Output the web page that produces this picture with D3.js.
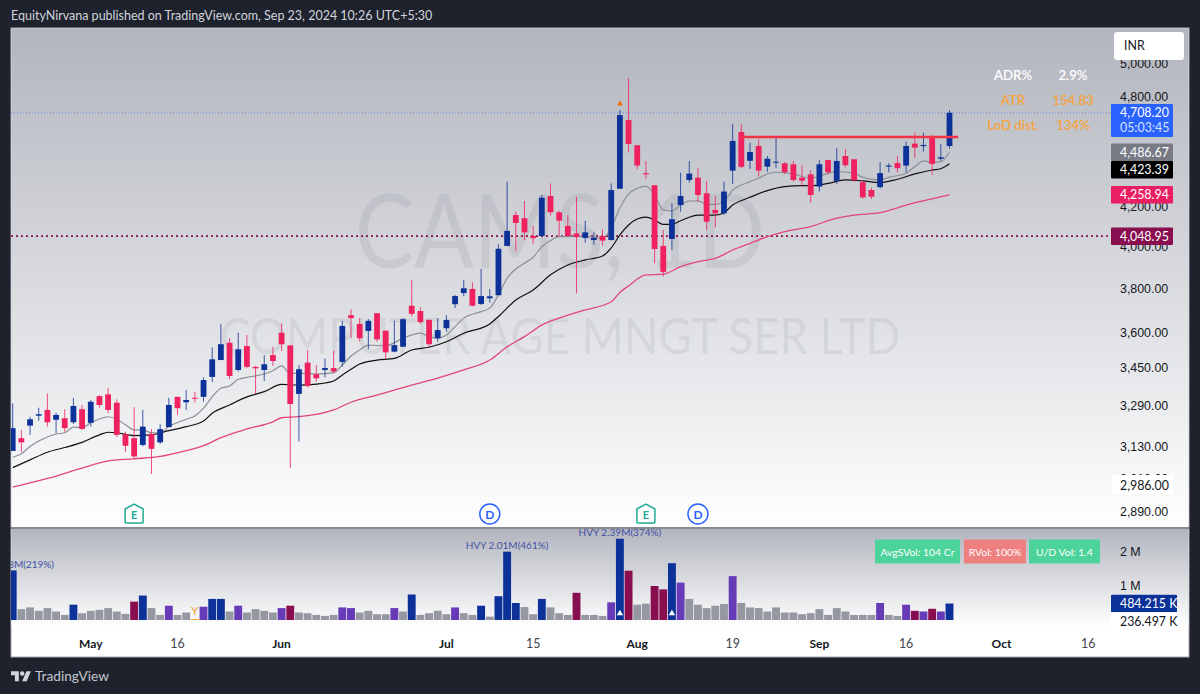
<!DOCTYPE html>
<html>
<head>
<meta charset="utf-8">
<script src="https://cdn.jsdelivr.net/npm/d3@7"></script>
<style>
  html, body { margin: 0; padding: 0; background: #1e222d; }
  svg { display: block; font-family: Lato, "Open Sans", sans-serif; }
</style>
</head>
<body>
<svg width="1200" height="694"></svg>
<script>
const opens = [3114,3163,3212,3251,3274,3235,3241,3225,3277,3223,3330,3337,3303,3178,3163,3137,3180,3147,3206,3327,3305,3323,3327,3409,3480,3554,3438,3540,3451,3438,3501,3598,3543,3339,3469,3420,3438,3446,3472,3676,3637,3606,3685,3607,3516,3537,3719,3695,3655,3574,3618,3726,3777,3796,3727,3753,3767,4001,4155,4139,4050,4050,4253,4169,4100,4063,4040,4030,4050,4030,4291,4667,4525,4373,4309,4001,4035,4206,4337,4349,4267,4181,4164,4387,4599,4440,4521,4408,4430,4426,4421,4349,4367,4302,4444,4332,4466,4448,4325,4284,4299,4408,4428,4414,4534,4520,4572,4451,4521];
const highs = [3301,3195,3247,3283,3341,3263,3277,3323,3294,3314,3334,3364,3317,3188,3285,3274,3198,3217,3323,3327,3355,3348,3407,3535,3636,3574,3598,3588,3455,3501,3537,3640,3543,3459,3523,3459,3487,3520,3651,3703,3663,3659,3685,3607,3652,3663,3838,3712,3658,3663,3676,3768,3838,3827,3890,3796,4009,4328,4172,4227,4100,4258,4319,4177,4155,4249,4126,4068,4083,4319,4724,4912,4525,4439,4309,4080,4215,4376,4439,4403,4332,4253,4328,4643,4643,4539,4558,4466,4577,4433,4439,4417,4390,4444,4444,4508,4503,4448,4337,4297,4433,4426,4466,4545,4595,4595,4582,4532,4724];
const lows = [3114,3110,3176,3231,3208,3182,3188,3218,3195,3208,3283,3261,3167,3111,3083,3131,3027,3141,3206,3254,3274,3303,3307,3388,3480,3400,3431,3445,3339,3392,3455,3518,3049,3150,3366,3389,3407,3424,3452,3574,3559,3527,3559,3484,3513,3537,3670,3637,3537,3559,3603,3708,3763,3715,3722,3733,3767,4001,3975,4030,4011,4047,4152,4047,4047,3776,4017,4007,4002,4027,4291,4486,4396,4342,3917,3854,3981,4172,4323,4223,4080,4093,4155,4316,4400,4396,4355,4381,4400,4369,4328,4302,4218,4276,4367,4316,4405,4328,4237,4237,4293,4378,4378,4378,4457,4490,4364,4440,4506];
const closes = [3202,3147,3237,3257,3225,3254,3202,3290,3199,3307,3294,3274,3176,3134,3093,3208,3122,3198,3294,3281,3314,3319,3396,3483,3548,3413,3526,3451,3445,3462,3476,3548,3298,3441,3371,3403,3446,3432,3628,3663,3574,3651,3569,3513,3544,3658,3682,3645,3548,3610,3655,3763,3799,3719,3763,3762,3987,4075,4115,4068,4039,4244,4169,4126,4050,4045,4068,4040,4027,4284,4695,4532,4414,4367,3986,3876,4134,4253,4371,4258,4121,4164,4276,4549,4407,4488,4387,4451,4435,4378,4337,4333,4258,4421,4378,4439,4416,4335,4246,4249,4373,4414,4400,4521,4512,4527,4423,4459,4708.20];

// volume in thousands, g grey, b blue, p purple, m maroon, o orange
const volumes = [1460,320,370,270,350,250,150,450,200,270,300,350,250,180,540,720,350,150,420,150,220,30,390,620,620,250,420,220,320,270,220,350,420,220,200,150,120,150,370,350,220,270,170,170,350,250,750,150,200,270,170,370,200,150,420,100,700,2010,500,380,170,620,370,200,150,800,150,150,120,520,2390,1450,450,480,1000,900,1670,1100,620,450,350,420,470,1290,500,370,350,250,370,220,220,170,200,320,150,350,250,150,150,150,500,150,120,450,270,250,330,250,484.215];
const volumeKinds = ["bggggggbgg","ggggmbggpg","gopbbgpggg","gpmgggggpp","ggggpgbggg","gpggbgbbbg","gbgggmgggp","bmggmmbpgg","gggpgggggg","gggggggggg","pggpmpmpb"].join("");

const grayIdx = [0,1,2,3,5,6,7,8,9,10,11,12,13,14,15,16,17,18,20,21,22,23,24,25,26,27,29,30,31,32,33,35,37,38,39,40,41,43,45,47,48,49,50,51,52,54,55,56,57,58,59,60,61,62,63,66,68,69,70,71,72,73,74,75,76,77,78,79,80,81,82,83,84,85,86,87,88,90,92,93,95,97,98,100,101,103,104,105,106,107,108];
const grayVal = [3090,3103,3131,3152,3179,3184,3206,3204,3223,3238,3247,3237,3215,3195,3195,3184,3184,3208,3237,3250,3281,3327,3362,3371,3399,3407,3421,3435,3455,3424,3424,3421,3427,3459,3497,3523,3544,3541,3574,3596,3581,3574,3588,3625,3663,3692,3708,3768,3846,3890,3917,3946,3997,4027,4047,4047,4039,4090,4191,4263,4293,4305,4258,4181,4176,4206,4227,4228,4210,4210,4223,4284,4310,4328,4346,4369,4378,4369,4346,4358,4381,4373,4351,4337,4351,4373,4408,4439,4431,4435,4486.67];

const blackIdx = [0,2,4,6,8,10,11,12,14,16,18,20,22,23,25,27,29,31,33,35,37,38,39,40,42,44,46,48,50,52,55,56,58,60,62,64,66,68,69,70,71,72,73,74,75,76,77,79,81,82,83,85,87,89,91,92,94,96,98,100,102,104,106,107,108];
const blackVal = [3051,3080,3109,3127,3147,3176,3186,3184,3173,3176,3192,3208,3230,3261,3294,3327,3348,3378,3375,3379,3392,3417,3441,3463,3480,3487,3523,3535,3559,3596,3637,3670,3745,3791,3862,3909,3933,3952,3991,4055,4105,4135,4144,4130,4108,4108,4126,4155,4155,4167,4206,4246,4281,4302,4307,4307,4319,4337,4332,4323,4341,4369,4390,4397,4423.39];

const pinkIdx = [0,4,8,11,14,17,20,22,24,27,30,31,33,37,39,42,46,49,52,55,57,59,61,63,66,69,70,71,73,75,77,79,81,83,85,87,89,92,95,97,100,103,105,108];
const pinkVal = [2979,3011,3049,3076,3084,3093,3115,3134,3165,3199,3227,3243,3247,3274,3305,3334,3375,3404,3438,3480,3537,3581,3632,3663,3700,3737,3780,3810,3862,3865,3901,3925,3941,3981,4014,4047,4072,4097,4139,4155,4167,4206,4228,4258.94];

const priceTicks = [5000,4800,4200,4000,3800,3600,3450,3290,3130,3010,2890];
const volumeTicks = [2000,1000];
const monthIdx = [9,31,50,72,93,114];
const monthLabels = ["May","Jun","Jul","Aug","Sep","Oct"];
const dayIdx = [19,60,83,103,124];
const dayLabels = ["16","15","19","16","16"];

const tagValues = [4486.67,4423.39,4258.94,4048.95];
const tagColors = ["#787b86","#000000","#e91e63","#880e4f"];
const statRows = [["ADR%","2.9%","#ffffff"],["ATR","154.83","#f5a33c"],["LoD dist.","134%","#f5a33c"]];
const badges = [
  {text: "AvgSVol: 104 Cr", x0: 875, x1: 960, fill: "#4cd39b"},
  {text: "RVol: 100%", x0: 964, x1: 1026, fill: "#ee8080"},
  {text: "U/D Vol: 1.4", x0: 1029, x1: 1100, fill: "#4cd39b"}
];
const volColors = {g: "#9598a1", b: "#0c3299", p: "#673ab7", m: "#880e4f", o: "#f5a33c"};
const levelPrice = 4048.95, breakoutPrice = 4571, lastPrice = 4708.20, lowLabel = 2986;

const svg = d3.select("svg");
const x = d3.scaleLinear().domain([0,108]).range([12.7,949.5]);
const y = d3.scaleLog().domain([2890,4800]).range([512,97]);
const v = d3.scaleLinear().domain([0,2000]).range([620,552]);
const fmt = d3.format(",.2f");
const axisFont = 12.4;

const defs = svg.append("defs");
function paneGradient(id) {
  const g = defs.append("linearGradient").attr("id", id).attr("x1",0).attr("x2",0).attr("y1",0).attr("y2",1);
  g.append("stop").attr("offset","0%").attr("stop-color","#b2b5be");
  g.append("stop").attr("offset","100%").attr("stop-color","#ffffff");
}
paneGradient("mainFill");
paneGradient("volFill");
defs.append("clipPath").attr("id","mainClip").append("rect").attr("x",11).attr("y",29).attr("width",1100).attr("height",499);
defs.append("clipPath").attr("id","volClip").append("rect").attr("x",11).attr("y",529).attr("width",1100).attr("height",100);

// panes
svg.append("rect").attr("x",11).attr("y",28).attr("width",1178).attr("height",629).attr("fill","#fff").attr("stroke","#a5a8b1");
svg.append("rect").attr("x",11.5).attr("y",28.5).attr("width",1177).attr("height",499).attr("fill","url(#mainFill)");
svg.append("rect").attr("x",11.5).attr("y",529).attr("width",1177).attr("height",98).attr("fill","url(#volFill)");
svg.append("line").attr("x1",11).attr("x2",1189).attr("y1",528).attr("y2",528).attr("stroke","#131722").attr("stroke-width",1.2);

// watermark
svg.append("text").attr("x",560).attr("y",268).attr("text-anchor","middle").attr("font-size",102)
  .attr("textLength",410).attr("lengthAdjust","spacingAndGlyphs")
  .attr("fill","#787b86").attr("fill-opacity",0.14).text("CAMS, 1D");
svg.append("text").attr("x",560).attr("y",354).attr("text-anchor","middle").attr("font-size",50)
  .attr("textLength",680).attr("lengthAdjust","spacingAndGlyphs")
  .attr("fill","#787b86").attr("fill-opacity",0.14).text("COMPUTER AGE MNGT SER LTD");

// header and footer
svg.append("text").attr("x",11).attr("y",20).attr("font-size",12.5).attr("fill","#d1d4dc")
  .text("EquityNirvana published on TradingView.com, Sep 23, 2024 10:26 UTC+5:30");
const logo = svg.append("g").attr("transform","translate(11,669) scale(0.56)").attr("fill","#d1d4dc");
logo.append("path").attr("d","M14 22H7V11H0V4h14v18zM28 22h-8l7.5-18h8L28 22z");
logo.append("circle").attr("cx",20).attr("cy",8).attr("r",4);
svg.append("text").attr("x",35).attr("y",681).attr("font-size",13.7).attr("fill","#c4c7cf").text("TradingView");

// levels
const main = svg.append("g").attr("clip-path","url(#mainClip)");
main.append("line").attr("x1",11).attr("x2",1111).attr("y1",y(lastPrice)).attr("y2",y(lastPrice))
  .attr("stroke","#2962ff").attr("stroke-opacity",0.6).attr("stroke-dasharray","1,2");
main.append("line").attr("x1",11).attr("x2",1111).attr("y1",y(levelPrice)).attr("y2",y(levelPrice))
  .attr("stroke","#880e4f").attr("stroke-width",1.7).attr("stroke-dasharray","2,3");

// moving averages
const line = d3.line().x(d => x(d[0])).y(d => y(d[1])).curve(d3.curveMonotoneX);
main.append("path").attr("d",line(d3.zip(pinkIdx,pinkVal))).attr("fill","none").attr("stroke","#e2457c").attr("stroke-width",1.3);
main.append("path").attr("d",line(d3.zip(grayIdx,grayVal))).attr("fill","none").attr("stroke","#8c8f98").attr("stroke-width",1.2);
main.append("path").attr("d",line(d3.zip(blackIdx,blackVal))).attr("fill","none").attr("stroke","#111111").attr("stroke-width",1.2);

// candles
const candleColor = i => closes[i] >= opens[i] ? "#0c3299" : "#f0215f";
const candles = main.selectAll(".candle").data(d3.range(opens.length)).enter().append("g").attr("class","candle");
candles.append("line")
  .attr("x1",i => x(i)).attr("x2",i => x(i))
  .attr("y1",i => y(highs[i])).attr("y2",i => y(lows[i]))
  .attr("stroke",candleColor).attr("stroke-opacity",0.8).attr("stroke-width",1);
candles.append("rect")
  .attr("x",i => x(i) - 2.9).attr("width",5.8)
  .attr("y",i => y(Math.max(opens[i],closes[i])))
  .attr("height",i => Math.max(1, y(Math.min(opens[i],closes[i])) - y(Math.max(opens[i],closes[i]))))
  .attr("fill",candleColor);

// breakout line
main.append("line").attr("x1",x(84)).attr("x2",x(109)).attr("y1",y(breakoutPrice)).attr("y2",y(breakoutPrice))
  .attr("stroke","#f23645").attr("stroke-width",2.4);

// orange flag above the gap candle
svg.append("path").attr("d",d3.symbol(d3.symbolTriangle,14)()).attr("transform",`translate(${x(70)},${y(4760)})`).attr("fill","#ef6c00");

// earnings and dividend marks
[14,73].forEach(i => {
  const g = svg.append("g").attr("transform",`translate(${x(i)},514)`);
  g.append("path").attr("d","M-9,-5 L0,-10 L9,-5 L9,8 Q9,9 8,9 L-8,9 Q-9,9 -9,8 Z").attr("fill","#fff").attr("stroke","#22ab94").attr("stroke-width",1.5);
  g.append("text").attr("y",5).attr("text-anchor","middle").attr("font-size",11).attr("font-weight",700).attr("fill","#22ab94").text("E");
});
[55,79].forEach(i => {
  const g = svg.append("g").attr("transform",`translate(${x(i)},514)`);
  g.append("circle").attr("r",10).attr("fill","#fff").attr("stroke","#2962ff").attr("stroke-width",1.5);
  g.append("text").attr("y",4.5).attr("text-anchor","middle").attr("font-size",12).attr("font-weight",700).attr("fill","#2962ff").text("D");
});

// volume
const vol = svg.append("g").attr("clip-path","url(#volClip)");
vol.selectAll("rect").data(volumes).enter().append("rect")
  .attr("x",(d,i) => x(i) - 3.95).attr("width",7.9)
  .attr("y",d => v(d)).attr("height",d => v(0) - v(d))
  .attr("fill",(d,i) => volColors[volumeKinds[i]]);
[70,76].forEach(i => {
  vol.append("path").attr("d",d3.symbol(d3.symbolTriangle,18)()).attr("transform",`translate(${x(i)},613.5)`).attr("fill","#fff");
});
const hvyLabels = [[0,1430,"HVY 1.43M(219%)"],[57,2010,"HVY 2.01M(461%)"],[70,2390,"HVY 2.39M(374%)"]];
vol.selectAll(".hvy").data(hvyLabels).enter().append("text").attr("class","hvy")
  .attr("x",d => x(d[0])).attr("y",d => v(d[1]) - 3).attr("text-anchor","middle")
  .attr("font-size",10).attr("fill","#3f51a5").text(d => d[2]);
vol.append("text").attr("x",x(21)).attr("y",615).attr("text-anchor","middle").attr("font-size",12).attr("fill","#f5a33c").text("Y");

badges.forEach(b => {
  svg.append("rect").attr("x",b.x0).attr("y",539.5).attr("width",b.x1 - b.x0).attr("height",24).attr("fill",b.fill);
  svg.append("text").attr("x",(b.x0 + b.x1) / 2).attr("y",555.5).attr("text-anchor","middle").attr("font-size",10.4).attr("fill","#fff").text(b.text);
});

// time axis
const timeAxis = svg.append("g");
timeAxis.selectAll(".month").data(d3.zip(monthIdx,monthLabels)).enter().append("text").attr("class","month")
  .attr("x",d => x(d[0])).attr("y",648).attr("text-anchor","middle").attr("font-size",12).attr("font-weight",700).attr("fill","#131722").text(d => d[1]);
timeAxis.selectAll(".day").data(d3.zip(dayIdx,dayLabels)).enter().append("text").attr("class","day")
  .attr("x",d => x(d[0])).attr("y",648).attr("text-anchor","middle").attr("font-size",12.4).attr("fill","#434651").text(d => d[1]);

// price axis
const priceAxis = svg.append("g").attr("transform","translate(1120,0)")
  .call(d3.axisRight(y).tickValues(priceTicks).tickSize(0).tickPadding(0).tickFormat(fmt));
priceAxis.select(".domain").remove();
priceAxis.selectAll("text").attr("font-size",axisFont).attr("font-family","inherit").attr("fill","#131722");
svg.append("rect").attr("x",1112).attr("y",475).attr("width",61).attr("height",19).attr("fill","#fff");
svg.append("text").attr("x",1120).attr("y",y(lowLabel) + 4.5).attr("font-size",axisFont).attr("fill","#131722").text(fmt(lowLabel));

// volume axis
const volAxis = svg.append("g").attr("transform","translate(1120,0)")
  .call(d3.axisRight(v).tickValues(volumeTicks).tickSize(0).tickPadding(0).tickFormat(d => (d / 1000) + " M"));
volAxis.select(".domain").remove();
volAxis.selectAll("text").attr("font-size",axisFont).attr("font-family","inherit").attr("fill","#131722");

// value tags, pushed down when they would collide
function tag(yMid, label, fill, color, width) {
  svg.append("rect").attr("x",1111).attr("y",yMid - 8.8).attr("width",width).attr("height",17.6).attr("rx",1).attr("fill",fill);
  svg.append("text").attr("x",1120).attr("y",yMid + 4.5).attr("font-size",axisFont).attr("fill",color).text(label);
}
let bottom = 0;
tagValues.forEach((val,k) => {
  const mid = Math.max(y(val), bottom + 8.8);
  tag(mid, fmt(val), tagColors[k], "#fff", 62);
  bottom = mid + 8.8;
});
svg.append("rect").attr("x",1111).attr("y",104).attr("width",62).attr("height",33).attr("rx",1).attr("fill","#2962ff");
svg.append("text").attr("x",1120).attr("y",117).attr("font-size",axisFont).attr("fill","#fff").text(fmt(lastPrice));
svg.append("text").attr("x",1120).attr("y",132).attr("font-size",axisFont).attr("fill","#d6e0ff").text("05:03:45");
const volTagY = v(484.215);
tag(volTagY, "484.215 K", "#0c3299", "#fff", 66);
tag(volTagY + 17.6, "236.497 K", "#ffffff", "#131722", 66);

// currency box
svg.append("rect").attr("x",1114).attr("y",32).attr("width",70).attr("height",28).attr("rx",3).attr("fill","#fff");
svg.append("text").attr("x",1124).attr("y",50).attr("font-size",axisFont).attr("fill","#131722").text("INR");

// stats table
statRows.forEach((r,k) => {
  const ty = 80 + k * 25;
  svg.append("text").attr("x",1013).attr("y",ty).attr("text-anchor","middle").attr("font-size",13.2).attr("font-weight",600).attr("fill",r[2]).text(r[0]);
  svg.append("text").attr("x",1073).attr("y",ty).attr("text-anchor","middle").attr("font-size",13.2).attr("font-weight",600).attr("fill",r[2]).text(r[1]);
});
</script>
</body>
</html>
